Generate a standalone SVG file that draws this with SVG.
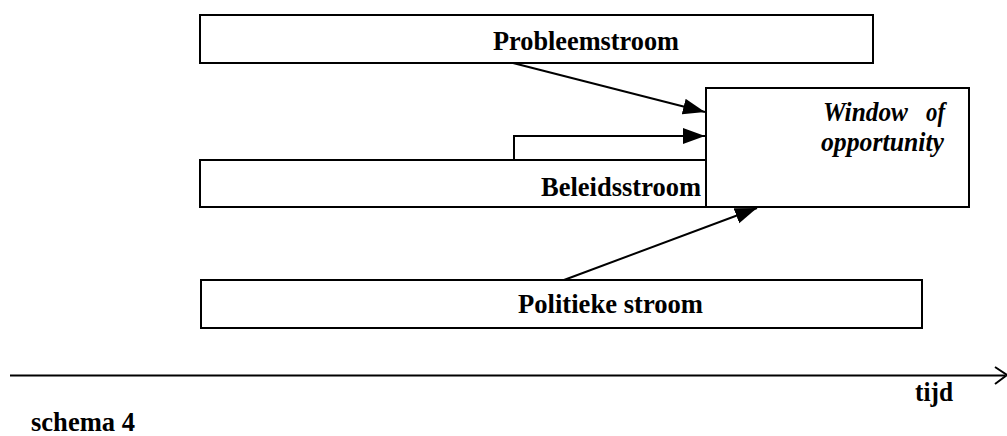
<svg xmlns="http://www.w3.org/2000/svg" width="1007" height="436" viewBox="0 0 1007 436">
<defs>
<style>
.box{fill:#fff;stroke:#000;stroke-width:2}
.t{font-family:"Liberation Serif","Times New Roman",serif;font-weight:bold;font-size:28px;fill:#000}
.i{font-style:italic}
.c{fill:none;stroke:#000;stroke-width:2}
</style>
<marker id="ah" markerUnits="userSpaceOnUse" markerWidth="23" markerHeight="17" refX="22" refY="8" orient="auto">
<path d="M0,0 L22,8 L0,16 z" fill="#000"/>
</marker>
</defs>
<rect width="1007" height="436" fill="#fff"/>
<g id="probleemstroom">
<rect class="box" x="200" y="15" width="673" height="48"/>
<text class="t" x="493" y="50" textLength="186" lengthAdjust="spacingAndGlyphs">Probleemstroom</text>
</g>
<g id="beleidsstroom">
<rect class="box" x="200" y="160" width="506" height="47"/>
<text class="t" x="541" y="196" textLength="160" lengthAdjust="spacingAndGlyphs">Beleidsstroom</text>
</g>
<g id="politieke-stroom">
<rect class="box" x="201" y="280" width="721" height="48"/>
<text class="t" x="518" y="313" textLength="185" lengthAdjust="spacingAndGlyphs">Politieke stroom</text>
</g>
<g id="window">
<rect class="box" x="706" y="88" width="263" height="119"/>
<text class="t i" x="823" y="121" textLength="85" lengthAdjust="spacingAndGlyphs">Window</text>
<text class="t i" x="926" y="121" textLength="19" lengthAdjust="spacingAndGlyphs">of</text>
<text class="t i" x="821" y="151" textLength="123" lengthAdjust="spacingAndGlyphs">opportunity</text>
</g>
<g id="connectors">
<line class="c" x1="513" y1="63" x2="705" y2="112" marker-end="url(#ah)"/>
<polyline class="c" points="514,160 514,136 705,136" marker-end="url(#ah)"/>
<line class="c" x1="564" y1="280" x2="757" y2="208" marker-end="url(#ah)"/>
</g>
<g id="timeline">
<line x1="10" y1="375.5" x2="1005" y2="375.5" stroke="#000" stroke-width="2"/>
<polyline points="995,367 1007,375 995,384" fill="none" stroke="#000" stroke-width="2"/>
<text class="t" x="915" y="401" textLength="38" lengthAdjust="spacingAndGlyphs">tijd</text>
</g>
<text class="t" x="31" y="431" textLength="104" lengthAdjust="spacingAndGlyphs">schema 4</text>
</svg>
